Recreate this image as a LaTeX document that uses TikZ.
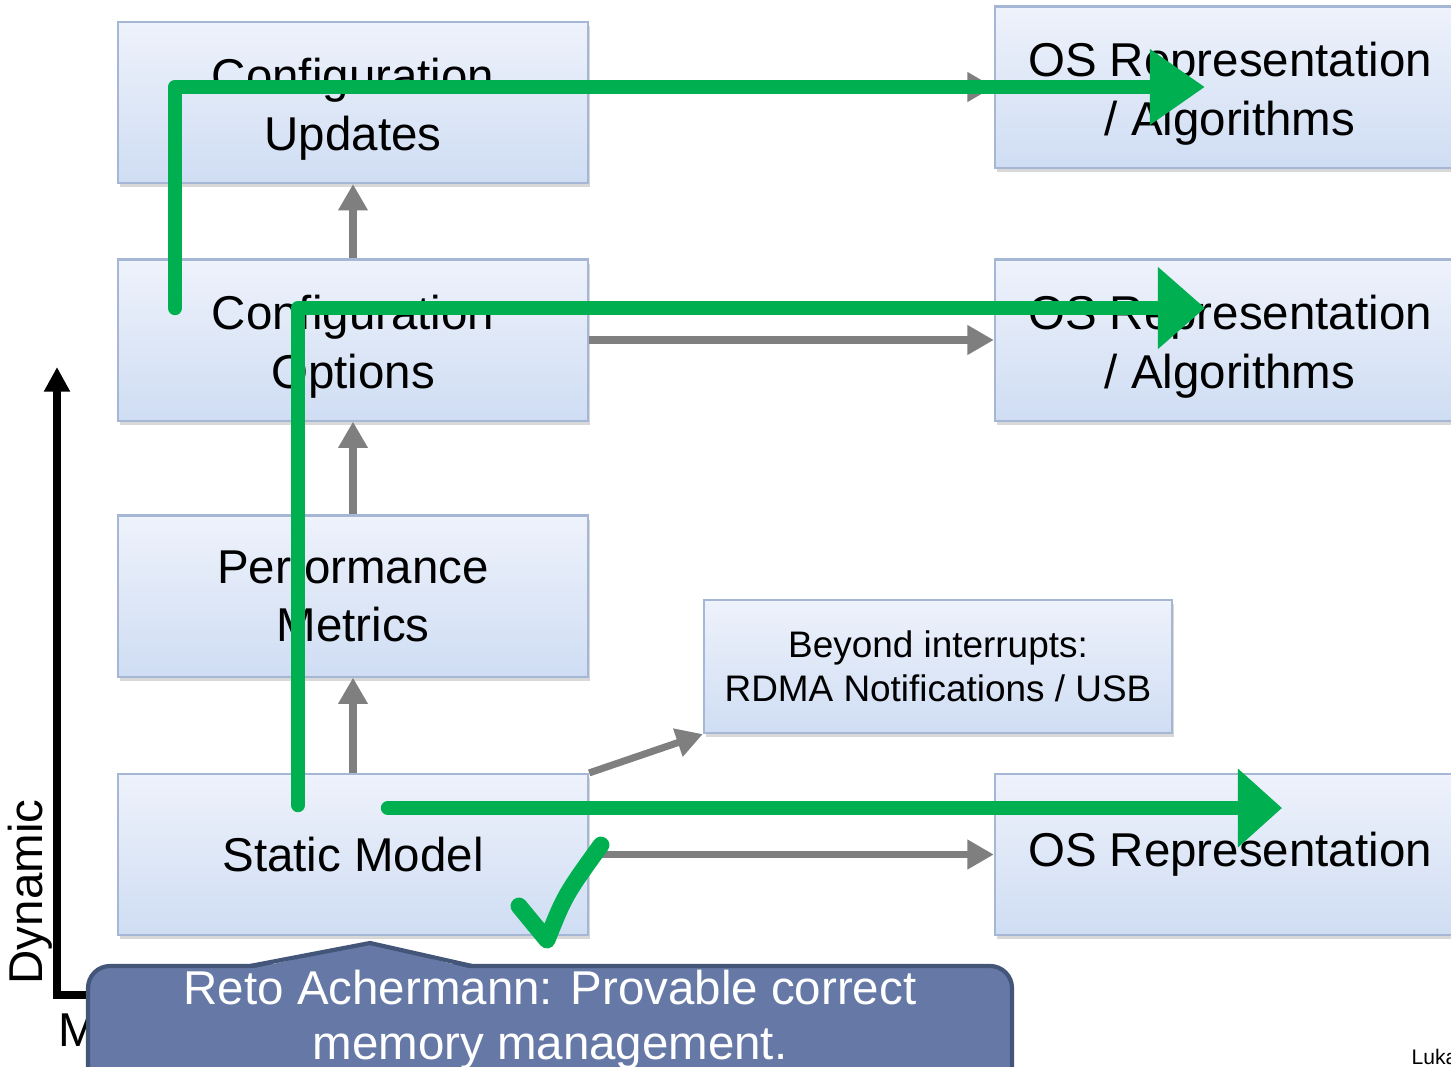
\documentclass[tikz,border=0pt]{standalone}
\usepackage{fontspec}
\setmainfont{Liberation Sans}
\definecolor{boxtop}{RGB}{238,242,251}
\definecolor{boxbottom}{RGB}{207,221,243}
\definecolor{boxline}{RGB}{166,183,214}
\definecolor{flowgray}{RGB}{127,127,127}
\definecolor{pathgreen}{RGB}{0,176,80}
\definecolor{notefill}{RGB}{102,121,166}
\definecolor{noteline}{RGB}{68,85,122}
\usetikzlibrary{arrows.meta,shadows}
\newcommand{\upstrut}{\rule{0pt}{13.6pt}}

\begin{document}
\begin{tikzpicture}[x=0.01cm, y=-0.01cm,
    layerbox/.style={rectangle, draw=boxline, line width=0.6pt,
                     top color=boxtop, bottom color=boxbottom,
                     minimum width=4.7cm, minimum height=1.61cm, align=center,
                     font=\fontsize{13.5}{16.5}\selectfont,
                     drop shadow={shadow xshift=0.6pt, shadow yshift=-1.2pt, opacity=0.3}},
    flow/.style={flowgray, line width=2pt, -{Triangle[length=7.5pt, width=8pt]}},
    greenpath/.style={pathgreen, line width=4.1pt, line cap=round, line join=round},
    axislabel/.style={font=\fontsize{13.5}{16.5}\selectfont}
  ]
    \useasboundingbox (0,0) rectangle (1451,1066);
    \fill[white] (0,0) rectangle (1451,1066);

    % axis
    \coordinate (axo) at (57,995);
    \coordinate (axtop) at (57,367);
    \coordinate (axend) at (120,995);
    \draw[line width=2.3pt, -{Triangle[length=7pt, width=7pt]}] (axend) -- (axo) -- (axtop);
    \node[axislabel, rotate=90] (dyn) at (30,892) {Dynamic};
    \node[axislabel] (mlabel) at (78,1030) {M};

    \node[layerbox] (upd) at (353,102.5) {\upstrut Configuration\\Updates};
    \node[layerbox] (opt) at (353,340) {\upstrut Configuration\\Options};
    \node[layerbox] (perf) at (353,596) {Performance\\Metrics};
    \node[layerbox] (static) at (353,854.5) {Static Model};
    \node[layerbox] (osa) at (1230,87) {\upstrut OS Representation\\/ Algorithms};
    \node[layerbox] (osb) at (1230,340) {\upstrut OS Representation\\/ Algorithms};
    \node[layerbox] (osc) at (1230,854.5) {OS Representation};
    \node[layerbox, minimum width=4.68cm, minimum height=1.33cm,
          font=\fontsize{10.5}{12.5}\selectfont] (beyond) at (938,666.5)
      {Beyond interrupts:\\RDMA Notifications / USB};

    \draw[flow] (static.north) -- (perf.south);
    \draw[flow] (perf.north) -- (opt.south);
    \draw[flow] (opt.north) -- (upd.south);
    \draw[flow] (upd.east |- osa.west) -- (osa.west);
    \draw[flow] (opt.east) -- (osb.west);
    \draw[flow] (static.east) -- (osc.west);
    \draw[flow] (static.north east) -- (beyond.south west);

    % green paths
    \coordinate (g1s) at (175,308);
    \coordinate (g1c) at (175,87);
    \coordinate (g1e) at (1205,87);
    \coordinate (g2s) at (298,805);
    \coordinate (g2c) at (298,308);
    \coordinate (g2e) at (1205,308);
    \coordinate (g3s) at (388,808);
    \coordinate (g3e) at (1282,808);
    \draw[greenpath, -{Triangle[length=0.55cm, width=0.72cm]}] (g1s) -- (g1c) -- (g1e);
    \draw[greenpath, -{Triangle[length=0.47cm, width=0.79cm]}] (g2s) -- (g2c) -- (g2e);
    \draw[greenpath, -{Triangle[length=0.44cm, width=0.76cm]}] (g3s) -- (g3e);
    \draw[pathgreen, line width=4.8pt, line cap=round, line join=round]
      (519,906) -- (547,940) .. controls (565,895) .. (601,845);

    % callout
    \draw[fill=notefill, draw=noteline, line width=1.2pt, rounded corners=0.22cm]
      (88,966) rectangle (1012,1130);
    \fill[notefill] (250,969) -- (370,943) -- (472,969) -- cycle;
    \draw[noteline, line width=1.2pt, line join=round] (250,966) -- (370,943) -- (472,966);
    \node[text=white, align=center, font=\fontsize{13.5}{15.7}\selectfont] (note) at (550,1020)
      {Reto Achermann: Provable correct\\memory management.};

    \node[font=\fontsize{6}{7}\selectfont, anchor=base west, inner sep=0pt] (foot) at (1411,1064) {Luka};
\end{tikzpicture}
\end{document}
